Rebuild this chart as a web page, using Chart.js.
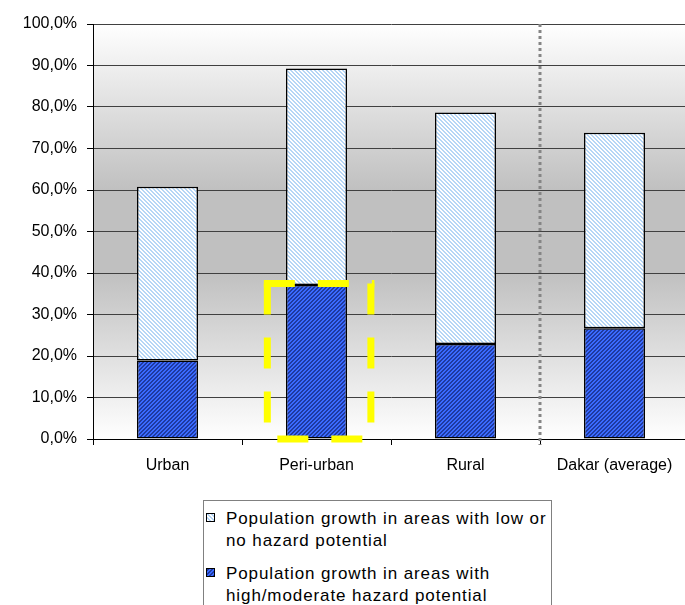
<!DOCTYPE html>
<html>
<head>
<meta charset="utf-8">
<title>Population growth by hazard potential</title>
<script src="https://cdn.jsdelivr.net/npm/chart.js@4.4.0/dist/chart.umd.min.js"></script>
<style>
  html, body { margin: 0; padding: 0; background: #fff; overflow: hidden; }
  #wrap { position: relative; width: 685px; height: 605px; overflow: hidden; }
  #chart { position: absolute; left: 0; top: 0; }
  #legend {
    position: absolute; left: 203px; top: 500px; width: 349px; height: 120px;
    box-sizing: border-box; padding-top: 7px;
    border: 1px solid #808080; background: #fff; color: #000;
    font-family: "Liberation Sans", Arial, sans-serif; font-size: 17px; letter-spacing: 0.9px;
  }
  .item { position: relative; padding-left: 22px; line-height: 22px; white-space: nowrap; }
  .item + .item { margin-top: 11px; }
  .item canvas { position: absolute; left: 2px; top: 5px; border: 1px solid #000; }
</style>
</head>
<body>
<div id="wrap">
  <canvas id="chart" width="690" height="605"></canvas>
  <div id="legend"></div>
</div>
<script>
document.addEventListener('DOMContentLoaded', function () {
    const categories = ['Urban', 'Peri-urban', 'Rural', 'Dakar (average)'];
    // share of population growth (%), high/moderate hazard areas at the bottom of each stack
    const highHazard = [18.9, 37.1, 22.9, 26.7];
    const lowHazard = [41.9, 52.2, 55.8, 47.1];
    const seriesNames = [
        'Population growth in areas with low or\nno hazard potential',
        'Population growth in areas with\nhigh/moderate hazard potential'
    ];
    const yMin = 0, yMax = 100, yStep = 10;
    const highlighted = 1;   // Peri-urban
    const dividerAfter = 2;  // line between Rural and Dakar

    // diagonal hatch tiles
    function hatch(ctx, base, stripe, forward) {
        const tile = document.createElement('canvas');
        tile.width = 4;
        tile.height = 4;
        const t = tile.getContext('2d');
        t.fillStyle = base;
        t.fillRect(0, 0, 4, 4);
        t.fillStyle = stripe;
        for (let x = 0; x < 4; x++) {
            for (let y = 0; y < 4; y++) {
                const k = forward ? (x + y) % 4 : ((x - y) % 4 + 4) % 4;
                if (k < 2) t.fillRect(x, y, 1, 1);
            }
        }
        return ctx.createPattern(tile, 'repeat');
    }

    const canvas = document.getElementById('chart');
    const ctx = canvas.getContext('2d');
    const lowFill = hatch(ctx, '#ffffff', '#b6d6f6', false);
    const highFill = hatch(ctx, '#3a6aff', '#1f3aa0', true);

    const plotBackground = {
        id: 'plotBackground',
        beforeDraw(chart) {
            const { ctx, chartArea: a } = chart;
            const g = ctx.createLinearGradient(0, a.top, 0, a.bottom);
            g.addColorStop(0, '#ffffff');
            g.addColorStop(0.4, '#c0c0c0');
            g.addColorStop(0.6, '#c0c0c0');
            g.addColorStop(1, '#ffffff');
            ctx.save();
            ctx.fillStyle = g;
            ctx.fillRect(a.left, a.top, a.right - a.left, a.bottom - a.top);
            ctx.restore();
        }
    };

    const annotations = {
        id: 'annotations',
        afterDraw(chart) {
            const { ctx, chartArea: a } = chart;
            const xs = chart.scales.x, ys = chart.scales.y;
            const cw = xs.getPixelForValue(1) - xs.getPixelForValue(0);

            // dotted divider
            const xd = (xs.getPixelForValue(dividerAfter) + xs.getPixelForValue(dividerAfter + 1)) / 2;
            ctx.save();
            ctx.strokeStyle = '#858585';
            ctx.lineWidth = 3;
            ctx.setLineDash([3, 3]);
            ctx.beginPath();
            ctx.moveTo(xd, a.top);
            ctx.lineTo(xd, a.bottom + 6);
            ctx.stroke();
            ctx.restore();

            // yellow dashed box round the peri-urban hazard share
            const xc = xs.getPixelForValue(highlighted);
            const x0 = xc - 0.33 * cw, x1 = xc + 0.365 * cw;
            const yt = ys.getPixelForValue(highHazard[highlighted]) - 1.5;
            const yb = ys.getPixelForValue(0);
            ctx.save();
            ctx.strokeStyle = '#ffff00';
            ctx.lineWidth = 7;
            ctx.setLineDash([31, 23]);
            const seg = (ax, ay, bx, by) => {
                ctx.beginPath();
                ctx.moveTo(ax, ay);
                ctx.lineTo(bx, by);
                ctx.stroke();
            };
            seg(x0 - 3.5, yt, x1 + 3.5, yt);
            seg(x0, yt, x0, yb + 3.5);
            seg(x1, yt, x1, yb + 3.5);
            seg(x0 + 10, yb, x1 + 3.5, yb);
            ctx.restore();
        }
    };

    new Chart(ctx, {
        type: 'bar',
        data: {
            labels: categories,
            datasets: [{
                label: seriesNames[1],
                data: highHazard,
                backgroundColor: highFill
            }, {
                label: seriesNames[0],
                data: lowHazard,
                backgroundColor: lowFill
            }]
        },
        options: {
            responsive: false,
            animation: false,
            layout: { padding: { top: 24, right: 1, bottom: 0, left: 0 } },
            datasets: {
                bar: {
                    borderColor: '#000',
                    borderWidth: 1.5,
                    borderSkipped: false,
                    inflateAmount: 0,
                    barPercentage: 61 / 149,
                    categoryPercentage: 1
                }
            },
            plugins: {
                legend: { display: false },
                tooltip: { enabled: false }
            },
            scales: {
                x: {
                    stacked: true,
                    grid: { drawOnChartArea: false, offset: true, tickLength: 6, color: '#000' },
                    border: { color: '#000' },
                    ticks: {
                        padding: 11,
                        color: '#000',
                        font: { family: '"Liberation Sans", Arial, sans-serif', size: 16 }
                    },
                    afterFit(scale) { scale.height = 166; }
                },
                y: {
                    stacked: true,
                    min: yMin,
                    max: yMax,
                    grid: { color: '#404040', tickLength: 6, tickColor: '#000' },
                    border: { color: '#000' },
                    ticks: {
                        stepSize: yStep,
                        padding: 10,
                        color: '#000',
                        font: { family: '"Liberation Sans", Arial, sans-serif', size: 16 },
                        callback: v => v.toFixed(1).replace('.', ',') + '%'
                    },
                    afterFit(scale) { scale.width = 93; }
                }
            }
        },
        plugins: [plotBackground, annotations]
    });

    // legend box, low-hazard series first
    const legend = document.getElementById('legend');
    [[seriesNames[0], lowFill], [seriesNames[1], highFill]].forEach(function ([name, fill]) {
        const item = document.createElement('div');
        item.className = 'item';
        const icon = document.createElement('canvas');
        icon.width = 7;
        icon.height = 7;
        const ic = icon.getContext('2d');
        ic.fillStyle = fill;
        ic.fillRect(0, 0, 7, 7);
        item.appendChild(icon);
        name.split('\n').forEach(function (line, i) {
            if (i) item.appendChild(document.createElement('br'));
            item.appendChild(document.createTextNode(line));
        });
        legend.appendChild(item);
    });
});
</script>
</body>
</html>
